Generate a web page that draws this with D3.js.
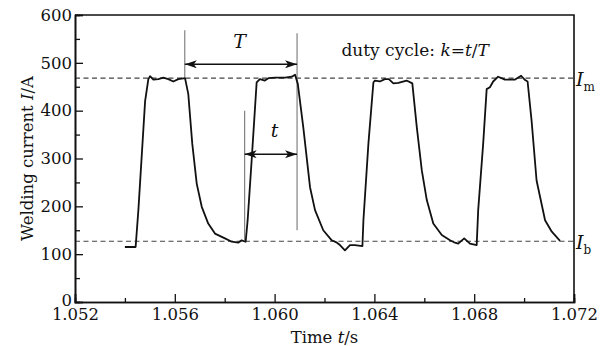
<!DOCTYPE html>
<html>
<head>
<meta charset="utf-8">
<script src="https://cdn.jsdelivr.net/npm/d3@7"></script>
<style>
  body { margin: 0; background: #fff; }
  svg text { font-family: "DejaVu Serif", "Liberation Serif", serif; fill: #111; }
</style>
</head>
<body>
<script>
// waveform: time (s) and current (A)
var times = [1.05400, 1.05443, 1.05454, 1.05481, 1.05494, 1.05501, 1.05514, 1.05534, 1.05554, 1.05574,
  1.05594, 1.05614, 1.05641, 1.05654, 1.05670, 1.05688, 1.05708, 1.05734, 1.05761, 1.05801,
  1.05828, 1.05854, 1.05868, 1.05884, 1.05892, 1.05908, 1.05928, 1.05941, 1.05961, 1.05975,
  1.06002, 1.06042, 1.06069, 1.06082, 1.06093, 1.06115, 1.06142, 1.06162, 1.06195, 1.06229,
  1.06250, 1.06262, 1.06282, 1.06302, 1.06322, 1.06352, 1.06356, 1.06376, 1.06396, 1.06402,
  1.06422, 1.06442, 1.06458, 1.06476, 1.06496, 1.06529, 1.06552, 1.06570, 1.06590, 1.06610,
  1.06636, 1.06670, 1.06703, 1.06723, 1.06736, 1.06760, 1.06783, 1.06810, 1.06816, 1.06836,
  1.06850, 1.06863, 1.06876, 1.06896, 1.06923, 1.06964, 1.06988, 1.07004, 1.07014, 1.07030,
  1.07050, 1.07084, 1.07111, 1.07144];
var current = [115, 115, 192, 420, 466, 472, 465, 466, 469, 466,
  461, 466, 468, 435, 331, 247, 199, 164, 143, 133,
  126, 124, 129, 126, 171, 296, 459, 466, 463, 468,
  469, 469, 471, 475, 456, 365, 240, 192, 150, 129,
  124, 119, 108, 119, 119, 117, 171, 331, 459, 463,
  461, 466, 466, 457, 458, 463, 457, 365, 275, 213,
  164, 140, 129, 124, 122, 133, 122, 119, 192, 331,
  445, 449, 461, 471, 465, 465, 473, 464, 461, 379,
  254, 171, 147, 128];

var xTicks = [1.052, 1.056, 1.060, 1.064, 1.068, 1.072];
var xMinor = [1.054, 1.058, 1.062, 1.066, 1.070];
var yTicks = [0, 100, 200, 300, 400, 500, 600];
var yMinor = [50, 150, 250, 350, 450, 550];

var iMax = 468, iBase = 127;   // dashed levels
var tStart = 1.0564, tOn = 1.0588, tEnd = 1.0609;   // marker lines
var markTop = [568, 400, 562], markBottom = [470, 129, 150];
var arrowT = 497, arrowSmall = 309;

var serif = '"DejaVu Serif", "Liberation Serif", serif';

var margin = {top: 15, right: 34, bottom: 44, left: 75},
    width = 608 - margin.left - margin.right,
    height = 346 - margin.top - margin.bottom;

var svg = d3.select("body").append("svg")
    .attr("width", 608).attr("height", 346);

svg.append("defs").append("marker")
    .attr("id", "head")
    .attr("viewBox", "0 0 12 8")
    .attr("refX", 12).attr("refY", 4)
    .attr("markerWidth", 12).attr("markerHeight", 8)
    .attr("markerUnits", "userSpaceOnUse")
    .attr("orient", "auto-start-reverse")
    .append("path")
    .attr("d", "M0,0 L12,4 L0,8 L3,4 Z")
    .attr("fill", "#111");

var g = svg.append("g")
    .attr("transform", "translate(" + margin.left + "," + margin.top + ")");

var x = d3.scaleLinear().domain([1.052, 1.072]).range([0, width]);
var y = d3.scaleLinear().domain([0, 600]).range([height, 0]);

// dashed levels
g.selectAll(".level")
  .data([iMax, iBase])
  .enter().append("line")
    .attr("x1", 0).attr("x2", width)
    .attr("y1", function(d){ return y(d); })
    .attr("y2", function(d){ return y(d); })
    .attr("stroke", "#444")
    .attr("stroke-width", 1.1)
    .attr("stroke-dasharray", "5,3.5");

// marker lines
g.selectAll(".mark")
  .data([tStart, tOn, tEnd])
  .enter().append("line")
    .attr("x1", function(d){ return x(d); })
    .attr("x2", function(d){ return x(d); })
    .attr("y1", function(d, i){ return y(markTop[i]); })
    .attr("y2", function(d, i){ return y(markBottom[i]); })
    .attr("stroke", "#777")
    .attr("stroke-width", 1.1);

// waveform
var pts = times.map(function(t, i){ return [t, current[i]]; });
g.append("path")
    .datum(pts)
    .attr("fill", "none")
    .attr("stroke", "#111")
    .attr("stroke-width", 1.8)
    .attr("stroke-linejoin", "round")
    .attr("d", d3.line()
      .x(function(d){ return x(d[0]); })
      .y(function(d){ return y(d[1]); }));

// double arrows
g.selectAll(".arrow")
  .data([[tStart, tEnd, arrowT], [tOn, tEnd, arrowSmall]])
  .enter().append("line")
    .attr("x1", function(d){ return x(d[0]); })
    .attr("x2", function(d){ return x(d[1]); })
    .attr("y1", function(d){ return y(d[2]); })
    .attr("y2", function(d){ return y(d[2]); })
    .attr("stroke", "#111")
    .attr("stroke-width", 1.5)
    .attr("marker-start", "url(#head)")
    .attr("marker-end", "url(#head)");

g.append("text")
    .attr("x", x(1.0586)).attr("y", y(531))
    .attr("text-anchor", "middle")
    .attr("font-family", serif)
    .style("font-size", "19px").style("font-style", "italic")
    .text("T");
g.append("text")
    .attr("x", x(1.0600)).attr("y", y(345))
    .attr("text-anchor", "middle")
    .attr("font-family", serif)
    .style("font-size", "19px").style("font-style", "italic")
    .text("t");

var duty = g.append("text")
    .attr("x", x(1.06268)).attr("y", y(515))
    .attr("font-family", serif)
    .style("font-size", "17px");
duty.append("tspan").text("duty cycle: ");
duty.append("tspan").style("font-style", "italic").text("k");
duty.append("tspan").text("=");
duty.append("tspan").style("font-style", "italic").text("t");
duty.append("tspan").text("/");
duty.append("tspan").style("font-style", "italic").text("T");

// level labels at the right
[["m", iMax], ["b", iBase]].forEach(function(d){
  var lab = g.append("text")
      .attr("x", width + 2).attr("y", y(d[1]) + 8)
      .attr("font-family", serif)
      .style("font-size", "19px");
  lab.append("tspan").style("font-style", "italic").text("I");
  lab.append("tspan").attr("dy", 5).style("font-size", "12px").text(d[0]);
});

// axes, ticks inward
var xAxis = d3.axisBottom(x).tickValues(xTicks)
    .tickFormat(d3.format(".3f")).tickSize(-8).tickPadding(6);
var yAxis = d3.axisLeft(y).tickValues(yTicks)
    .tickFormat(d3.format("d")).tickSize(-8).tickPadding(3);

var gx = g.append("g")
    .attr("transform", "translate(0," + height + ")")
    .call(xAxis);
gx.append("g").call(d3.axisBottom(x).tickValues(xMinor).tickSize(-4).tickFormat(""));

var gy = g.append("g").call(yAxis);
gy.append("g").call(d3.axisLeft(y).tickValues(yMinor).tickSize(-5).tickFormat(""));

g.selectAll(".domain").attr("stroke", "#111").attr("stroke-width", 1.6);
g.selectAll(".tick line").attr("stroke", "#111").attr("stroke-width", 1.3);
g.selectAll(".tick text")
    .attr("font-family", serif)
    .style("font-size", "16.5px").attr("fill", "#111");
gy.selectAll(".tick text").filter(function(d){ return d === 0; }).attr("dy", "0.2em");

// top and right border
g.append("path")
    .attr("d", "M0,0 H" + width + " V" + height)
    .attr("fill", "none")
    .attr("stroke", "#111")
    .attr("stroke-width", 1.6);

g.append("text")
    .attr("transform", "translate(-42," + (height / 2) + ") rotate(-90)")
    .attr("text-anchor", "middle")
    .attr("font-family", serif)
    .style("font-size", "16.5px")
    .html('Welding current <tspan font-style="italic">I</tspan>/A');

g.append("text")
    .attr("x", width / 2).attr("y", height + 41)
    .attr("text-anchor", "middle")
    .attr("font-family", serif)
    .style("font-size", "16.5px")
    .html('Time <tspan font-style="italic">t</tspan>/s');
</script>
</body>
</html>
